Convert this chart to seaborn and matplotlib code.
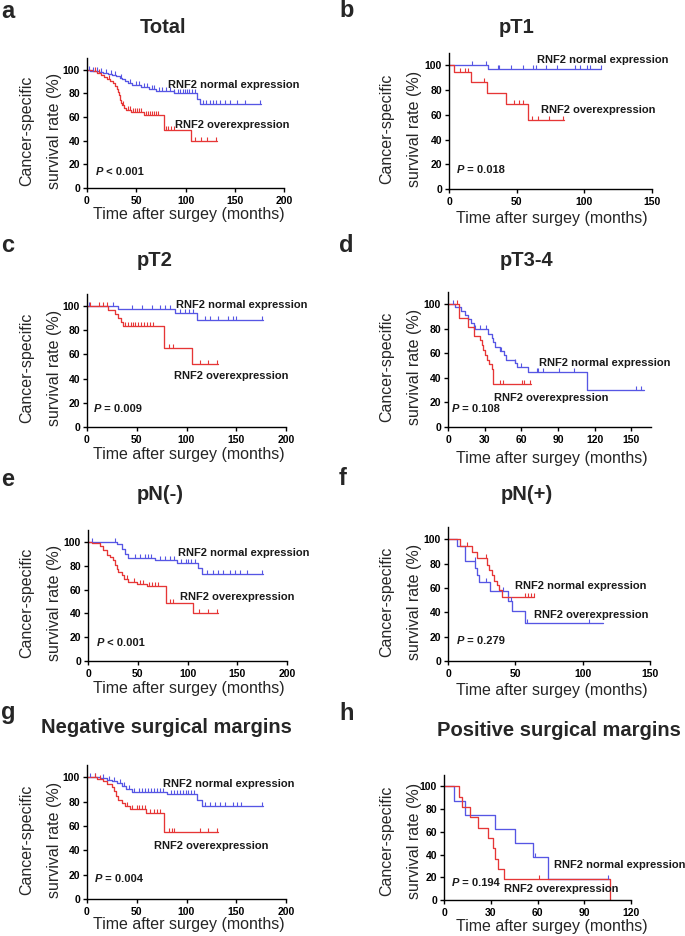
import numpy as np
import pandas as pd
import matplotlib
matplotlib.use("Agg")
import matplotlib.pyplot as plt
from matplotlib.path import Path
import seaborn as sns

# ------------------------------------------------------------------
# Data (time in months, survival in %)
# ------------------------------------------------------------------
# a  Total
A_BLUE_T = [3, 8, 12, 16, 21, 25, 29, 33, 36, 39, 42, 46, 55, 63, 70, 88, 112, 115]
A_BLUE_S = [99.4, 98.8, 98.1, 97.4, 96.6, 95.8, 94.7, 93.5, 92.0, 90.3, 88.6, 86.9, 85.3, 83.6, 81.9, 80.2, 75.5, 70.8]
A_BLUE_END = 177
A_BLUE_C = [2, 6, 10, 14, 19, 24, 28, 35, 44, 50, 53, 58, 61, 66, 68, 73, 76, 80, 84, 88, 92, 94, 97, 99,
            102, 104, 107, 110, 118, 121, 125, 128, 131, 135, 140, 145, 152, 160, 176]
A_RED_T = [6, 10, 14, 17, 20, 23, 26, 28, 30, 31, 32, 33, 34, 35, 36, 38, 40, 45, 58, 78, 106]
A_RED_S = [99.0, 97.5, 96.0, 94.3, 92.5, 90.8, 89.0, 86.5, 84.0, 81.5, 79.0, 76.8, 74.5, 72.3, 70.0, 68.0,
           66.3, 64.6, 61.8, 49.2, 39.5]
A_RED_END = 132
A_RED_C = [8, 12, 22, 37, 42, 44, 47, 49, 51, 53, 55, 60, 62, 64, 66, 68, 70, 72, 80, 82, 85, 88, 110, 116, 122, 131]

# b  pT1
B_BLUE_T = [29]
B_BLUE_S = [97.0]
B_BLUE_END = 112
B_BLUE_C = [17, 27, 36, 37, 46, 55, 62, 64, 72, 80, 93, 97, 102, 104, 112]
B_RED_T = [3.5, 16.5, 28, 42, 58.5]
B_RED_S = [94.5, 86.7, 78.0, 69.0, 56.0]
B_RED_END = 85
B_RED_C = [8, 11.5, 14, 25.5, 48, 51.5, 54.5, 61, 65.5, 74, 84]

# c  pT2
C_BLUE_T = [31.5, 88.5, 111]
C_BLUE_S = [97.3, 93.9, 88.6]
C_BLUE_END = 177
C_BLUE_C = [2, 26, 45, 55, 65, 73, 78, 83, 93, 98, 103, 107, 119, 124, 132, 142, 147, 150, 176]
C_RED_T = [21.5, 28, 31.5, 34, 36.5, 77.5, 106]
C_RED_S = [96.7, 93.4, 90.1, 86.9, 83.6, 65.0, 52.0]
C_RED_END = 132
C_RED_C = [3, 12, 16, 20, 38, 41, 44, 46, 48, 51, 54, 57, 60, 63, 66, 82, 86, 114, 122, 131]

# d  pT3-4
D_BLUE_T = [5.7, 11, 14, 16.7, 18.6, 21.3, 33, 35.8, 37.2, 38.5, 42.6, 45.4, 47.5, 55, 56.3, 65.8, 113.5]
D_BLUE_S = [97.5, 94.3, 91.0, 87.7, 84.4, 79.5, 76.0, 72.5, 69.0, 65.0, 62.0, 58.5, 55.0, 52.0, 49.0, 45.0, 30.0]
D_BLUE_END = 160
D_BLUE_C = [4, 22, 26, 31, 43, 55, 60, 72.5, 74, 78, 90.5, 103, 154, 158]
D_RED_T = [9.3, 16.7, 21.3, 26, 27.5, 29, 30.5, 31.7, 33.5, 35.8, 37.2]
D_RED_S = [88.5, 81.5, 74.5, 70.5, 66.5, 62.5, 58.5, 54.5, 51.0, 47.3, 34.7]
D_RED_END = 68
D_RED_C = [7, 42.5, 45, 60.5, 62.5, 67]

# e  pN(-)
E_BLUE_T = [29, 34, 37, 40.5, 67, 89, 111, 114.3]
E_BLUE_S = [98.3, 94.2, 89.5, 86.4, 84.4, 82.2, 78.0, 73.3]
E_BLUE_END = 176
E_BLUE_C = [4, 27, 47, 52, 57, 60, 63, 72, 77, 82, 86, 93, 98, 101, 104, 108, 120, 126, 131, 136, 143, 148, 153, 160, 175]
E_RED_T = [4, 12, 15.4, 18.8, 22, 25.5, 27.1, 28.8, 30.5, 33.8, 36.5, 40.5, 49, 59, 78, 105.2]
E_RED_S = [99.2, 96.4, 92.8, 89.2, 87.2, 84.4, 80.3, 77.5, 74.7, 71.9, 69.2, 66.4, 65.0, 63.0, 48.9, 40.0]
E_RED_END = 131
E_RED_C = [39, 46, 52, 55, 61, 64, 67, 70, 82, 85, 112, 121, 130]

# f  pN(+)
F_BLUE_T = [6.7, 12.9, 20.3, 21.5, 22.8, 31, 44.5, 47.5, 57.4]
F_BLUE_S = [94.1, 82.4, 76.5, 70.6, 64.7, 57.5, 49.3, 41.1, 30.8]
F_BLUE_END = 115
F_BLUE_C = [20, 28, 40.5, 46.5, 58.5, 104.5]
F_RED_T = [9.2, 17.8, 21.5, 29, 30.5, 32.7, 34.5, 36.4, 38, 40]
F_RED_S = [94.7, 89.5, 84.2, 78.9, 74.5, 70.2, 66.0, 62.5, 58.5, 52.2]
F_RED_END = 64
F_RED_C = [14, 28, 57, 59.5, 61.5, 63.5]

# g  Negative surgical margins
G_BLUE_T = [13, 19.8, 24.8, 29.8, 34.9, 39.2, 44.9, 80, 110.2, 115.3]
G_BLUE_S = [99.0, 98.0, 96.7, 95.3, 92.6, 90.6, 87.8, 85.9, 81.5, 76.0]
G_BLUE_END = 177
G_BLUE_C = [3, 8, 16, 22, 27, 33, 37, 42, 47, 52, 55, 58, 61, 64, 67, 70, 73, 76, 84, 87, 90, 93, 96, 99,
            102, 105, 108, 119, 124, 129, 134, 139, 147, 151, 155, 176]
G_RED_T = [9.7, 16.4, 19.8, 24.8, 27, 29.1, 31.5, 34.9, 38.2, 43.2, 59.3, 77.4]
G_RED_S = [98.8, 96.7, 94.5, 91.7, 88.4, 84.3, 81.6, 78.8, 76.0, 74.1, 70.5, 55.4]
G_RED_END = 132
G_RED_C = [8, 13, 40, 45, 50, 52, 55, 58, 63, 67, 70, 73, 82, 85, 87, 114, 122, 131]

# h  Positive surgical margins
H_BLUE_T = [6.4, 13.5, 32.7, 45.6, 57.3, 67]
H_BLUE_S = [87.5, 75.0, 62.5, 50.0, 37.5, 18.75]
H_BLUE_END = 106
H_BLUE_C = [58.5, 105]
H_RED_T = [9.8, 11.3, 16.7, 22, 28.5, 31.7, 32.7, 34.9, 38.5, 106.5]
H_RED_S = [90.9, 81.8, 72.7, 63.6, 54.5, 45.5, 36.4, 27.3, 18.2, 0.0]
H_RED_END = 106.5
H_RED_C = [61]

PANEL_LETTERS = ["a", "b", "c", "d", "e", "f", "g", "h"]
PANEL_TITLES = ["Total", "pT1", "pT2", "pT3-4", "pN(-)", "pN(+)",
                "Negative surgical margins", "Positive surgical margins"]
P_VALUES = ["< 0.001", "= 0.018", "= 0.009", "= 0.108", "< 0.001", "= 0.279", "= 0.004", "= 0.194"]
NORMAL_LABEL = "RNF2 normal expression"
OVER_LABEL = "RNF2 overexpression"
XLABEL = "Time after surgey (months)"
YLABEL1 = "Cancer-specific"
YLABEL2 = "survival rate (%)"
Y_TICKS = [0, 20, 40, 60, 80, 100]

BLUE = "#5656e4"
RED = "#e63636"

# ------------------------------------------------------------------
W, H, DPI = 685, 936, 100
sns.set_theme(style="ticks")
plt.rcParams["font.family"] = ["Liberation Sans", "DejaVu Sans"]
plt.rcParams["axes.linewidth"] = 1.0

fig = plt.figure(figsize=(W / DPI, H / DPI), dpi=DPI)
fig.patch.set_facecolor("white")

# upward censor tick (from the curve upward)
CENSOR_MARK = Path([(0, 0), (0, 1)], [Path.MOVETO, Path.LINETO])


def fx(px):
    return px / W


def fy(py):
    return 1 - py / H


def draw_curve(ax, t, s, end, cens, color):
    xs = [0] + list(t)
    ys = [100] + list(s)
    if end > xs[-1]:
        xs.append(end)
        ys.append(ys[-1])
    df = pd.DataFrame({"t": xs, "s": ys})
    sns.lineplot(data=df, x="t", y="s", drawstyle="steps-post", color=color, lw=0.95,
                 estimator=None, sort=False, ax=ax)
    idx = np.searchsorted(np.array(xs, dtype=float), np.array(cens, dtype=float), side="right") - 1
    cy = np.array(ys)[idx]
    sns.scatterplot(x=cens, y=cy, marker=CENSOR_MARK, s=30, color=color, edgecolor=color,
                    linewidth=0.8, ax=ax, zorder=3)


# layout per panel: (left, right, top, bottom) px, xmax, xticks
GEOM = [
    ((87, 284, 58, 188), 200, [0, 50, 100, 150, 200]),
    ((449, 652, 53, 189), 150, [0, 50, 100, 150]),
    ((87, 286, 294, 427), 200, [0, 50, 100, 150, 200]),
    ((448, 651, 292, 427), 166, [0, 30, 60, 90, 120, 150]),
    ((88, 287, 530, 661), 200, [0, 50, 100, 150, 200]),
    ((448, 650, 527, 661), 150, [0, 50, 100, 150]),
    ((87, 286, 765, 899), 200, [0, 50, 100, 150, 200]),
    ((444, 631, 775, 900), 120, [0, 30, 60, 90, 120]),
]
CURVES = [
    (A_BLUE_T, A_BLUE_S, A_BLUE_END, A_BLUE_C, A_RED_T, A_RED_S, A_RED_END, A_RED_C),
    (B_BLUE_T, B_BLUE_S, B_BLUE_END, B_BLUE_C, B_RED_T, B_RED_S, B_RED_END, B_RED_C),
    (C_BLUE_T, C_BLUE_S, C_BLUE_END, C_BLUE_C, C_RED_T, C_RED_S, C_RED_END, C_RED_C),
    (D_BLUE_T, D_BLUE_S, D_BLUE_END, D_BLUE_C, D_RED_T, D_RED_S, D_RED_END, D_RED_C),
    (E_BLUE_T, E_BLUE_S, E_BLUE_END, E_BLUE_C, E_RED_T, E_RED_S, E_RED_END, E_RED_C),
    (F_BLUE_T, F_BLUE_S, F_BLUE_END, F_BLUE_C, F_RED_T, F_RED_S, F_RED_END, F_RED_C),
    (G_BLUE_T, G_BLUE_S, G_BLUE_END, G_BLUE_C, G_RED_T, G_RED_S, G_RED_END, G_RED_C),
    (H_BLUE_T, H_BLUE_S, H_BLUE_END, H_BLUE_C, H_RED_T, H_RED_S, H_RED_END, H_RED_C),
]
# label positions in data coords: normal label, overexpression label, P text
LABEL_POS = [
    ((82, 87), (89, 53.4), (9, 13.8)),
    ((65, 104), (68, 63.7), (6, 15.4)),
    ((89.4, 100.8), (87.4, 42.4), (7, 14.9)),
    ((74.3, 52.2), (37.4, 24), (3.3, 14.5)),
    ((90.8, 90.6), (92.5, 53.9), (8.7, 15)),
    ((50, 61.2), (63.6, 38), (6.7, 16.1)),
    ((76, 94), (67.3, 43.8), (8, 16.8)),
    ((70.4, 30.4), (38.7, 9.5), (5.1, 14.6)),
]
# figure text positions (px)
LETTER_POS = [(1, 18), (339, 17), (1, 252), (339, 252), (1, 486), (339, 485), (1, 719), (339, 720)]
TITLE_POS = [(163, 33), (517, 33), (155, 266), (527, 266), (160, 500), (527, 500), (166, 733), (559, 736)]
XLABEL_POS = [(189, 215), (552, 218), (189, 454), (552, 458), (189, 688), (552, 690), (189, 925), (552, 927)]
YLABEL_X = [(27, 54), (387, 414), (27, 54), (387, 414), (27, 54), (387, 414), (27, 54), (387, 414)]
YLABEL_Y = [131, 129, 368, 367, 603, 602, 840, 841]

for i in range(8):
    (l, r, t, b), xmax, xticks = GEOM[i]
    ax = fig.add_axes([fx(l), fy(b), (r - l) / W, (b - t) / H])
    ax.set_facecolor("white")
    bt, bs, be, bc, rt, rs, re_, rc = CURVES[i]
    draw_curve(ax, bt, bs, be, bc, BLUE)
    draw_curve(ax, rt, rs, re_, rc, RED)
    ax.set_xlim(0, xmax)
    ax.set_ylim(0, 110)
    ax.set_xticks(xticks)
    ax.set_yticks(Y_TICKS)
    ax.set_xlabel("")
    ax.set_ylabel("")
    sns.despine(ax=ax)
    ax.tick_params(axis="both", direction="out", length=3, width=1.0, labelsize=7.5,
                   colors="black", pad=2)
    ax.tick_params(axis="x", pad=3)
    for lbl in ax.get_xticklabels() + ax.get_yticklabels():
        lbl.set_fontweight("bold")
    for sp in ("left", "bottom"):
        ax.spines[sp].set_color("black")
        ax.spines[sp].set_linewidth(1.0)
    (nx, ny), (ox, oy), (px_, py_) = LABEL_POS[i]
    ax.text(nx, ny, NORMAL_LABEL, fontsize=8, fontweight="bold", ha="left", va="center", color="#1a1a1a")
    ax.text(ox, oy, OVER_LABEL, fontsize=8, fontweight="bold", ha="left", va="center", color="#1a1a1a")
    tp = ax.text(px_, py_, "P", fontsize=8, fontweight="bold", fontstyle="italic",
                 ha="left", va="center", color="#1a1a1a")
    ax.annotate(" " + P_VALUES[i], xy=(1, 0), xycoords=tp, ha="left", va="bottom",
                fontsize=8, fontweight="bold", color="#1a1a1a")

    lx, ly = LETTER_POS[i]
    fig.text(fx(lx), fy(ly), PANEL_LETTERS[i], fontsize=17, fontweight="bold", ha="left", va="baseline")
    tx, ty = TITLE_POS[i]
    fig.text(fx(tx), fy(ty), PANEL_TITLES[i], fontsize=14.5, fontweight="bold", ha="center", va="baseline")
    xx, xy = XLABEL_POS[i]
    fig.text(fx(xx), fy(xy), XLABEL, fontsize=11.5, ha="center", va="center")
    y1, y2 = YLABEL_X[i]
    fig.text(fx(y1), fy(YLABEL_Y[i]), YLABEL1, fontsize=11.5, ha="center", va="center", rotation=90)
    fig.text(fx(y2), fy(YLABEL_Y[i]), YLABEL2, fontsize=11.5, ha="center", va="center", rotation=90)

fig.savefig("out.png", dpi=DPI, facecolor="white")
